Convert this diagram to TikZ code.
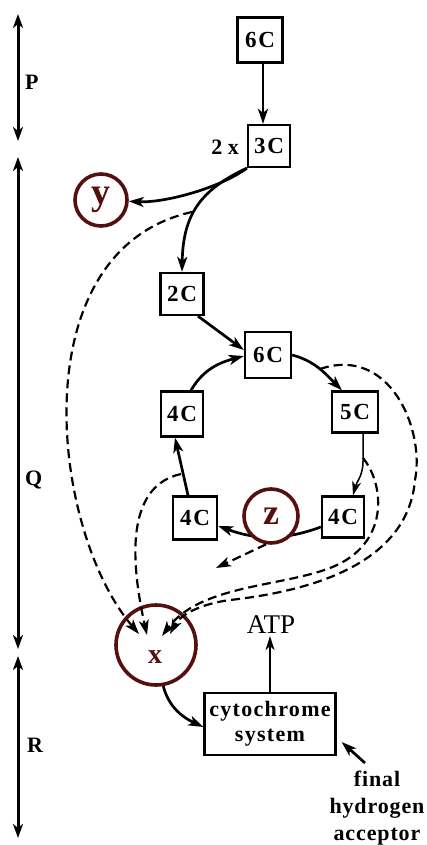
\documentclass[tikz,border=0pt]{standalone}
\usepackage{fontspec}
\setmainfont{Liberation Serif}
\usetikzlibrary{arrows.meta,calc}
\definecolor{ringred}{RGB}{85,15,15}
\begin{document}
\begin{tikzpicture}[x=1pt,y=-1pt,
  box/.style={draw, line width=2.3pt, inner sep=0pt, fill=white,
    font=\bfseries\fontsize{23}{23}\selectfont\addfontfeatures{LetterSpace=8}},
  ring/.style={draw=ringred, line width=3.6pt, circle, inner sep=0pt, text=ringred},
  conn/.style={line width=2.7pt, -{Stealth[length=15pt,width=10pt,inset=4pt]}},
  dconn/.style={line width=2.2pt, dash pattern=on 9pt off 5pt, -{Stealth[length=15pt,width=10pt,inset=4pt]}},
  slim/.style={line width=1.5pt, -{Stealth[length=14pt,width=9pt,inset=4pt]}},
  span/.style={line width=3pt, {Stealth[length=14pt,width=10pt,inset=4pt]}-{Stealth[length=14pt,width=10pt,inset=4pt]}},
  lab/.style={inner sep=0pt, font=\bfseries\fontsize{22}{22}\selectfont}
]
\useasboundingbox (0,0) rectangle (427,845);

% left spans
\coordinate (pt) at (18,14);
\coordinate (pb) at (18,141);
\coordinate (qt) at (18,157);
\coordinate (qb) at (18,649);
\coordinate (rt) at (18,656);
\coordinate (rb) at (18,838);
\draw[span] (pt) -- (pb);
\draw[span] (qt) -- (qb);
\draw[span] (rt) -- (rb);
\node[lab, anchor=base west] (P) at (25,90) {P};
\node[lab, anchor=base west] (Q) at (25,485) {Q};
\node[lab, anchor=base west] (R) at (27,752) {R};

% boxes
\node[box, minimum width=45pt, minimum height=45pt] (c6a) at (260,40) {6C};
\node[box, minimum width=42pt, minimum height=42pt] (c3) at (269,146) {3C};
\node[lab, anchor=base east] (two) at (239,155) {2 x};
\node[box, minimum width=43pt, minimum height=42pt] (c2) at (182,294) {2C};
\node[box, minimum width=46pt, minimum height=46pt] (c6b) at (268,355) {6C};
\node[box, minimum width=42pt, minimum height=45pt] (c4a) at (182,414) {4C};
\node[box, minimum width=46pt, minimum height=41pt] (c5) at (355,412) {5C};
\node[box, minimum width=44pt, minimum height=43pt] (c4b) at (195,518) {4C};
\node[box, minimum width=42pt, minimum height=41pt] (c4c) at (343,517) {4C};
\node[box, minimum width=131pt, minimum height=62pt, align=center,
  font=\bfseries\fontsize{22}{25}\selectfont\addfontfeatures{LetterSpace=6}] (cyt) at (270,724) {cytochrome\\system};

% circles
\node[ring, minimum size=52pt, font=\bfseries\fontsize{38}{38}\selectfont] (Y) at (101,200) {y};
\draw[conn] ([yshift=-10pt]c4c.west) to[out=200,in=-20] ([yshift=-8pt]c4b.east);
\node[ring, fill=white, minimum size=54pt, font=\bfseries\fontsize{36}{36}\selectfont] (Z) at (271,516) {z};
\node[ring, minimum size=80pt] (X) at (156,645) {};
\node[text=ringred, font=\bfseries\fontsize{28}{28}\selectfont] (xl) at (155,657) {x};

% other texts
\node[inner sep=2pt, font=\fontsize{27}{27}\selectfont] (atp) at (271,625) {ATP};
\node[inner sep=0pt, anchor=north, align=center,
  font=\bfseries\fontsize{22}{27}\selectfont\addfontfeatures{LetterSpace=4}] (fha) at (377,771) {final\\hydrogen\\acceptor};

% free points
\coordinate (d1) at (192,212);
\coordinate (d2) at (181,474);
\coordinate (d3) at (320,369);
\coordinate (d4) at (363,458);
\coordinate (xa) at (139,634);
\coordinate (xb) at (147,635);
\coordinate (xc) at (162,636);
\coordinate (xd) at (170,634);
\coordinate (zout) at (216,568);

% solid connectors
\draw[conn] ([xshift=3pt]c6a.south) -- ([xshift=-6pt]c3.north);
\draw[conn] (c3.south west) .. controls (220,188) and (165,203) .. (Y);
\draw[conn] (c3.south west) .. controls (200,190) and (183,215) .. (c2.north);
\draw[conn] ([xshift=16pt]c2.south) -- ([yshift=5pt]c6b.west);
\draw[conn] ([xshift=9pt]c4a.north) to[out=60,in=195] ([yshift=-1pt]c6b.west);
\draw[conn] (c6b.east) to[out=-15,in=135] ([xshift=-13pt]c5.north);
\draw[slim] ([xshift=8pt]c5.south) -- ++(0,28) to[out=-90,in=75] ([xshift=10pt]c4c.north);
\draw[conn] ([xshift=-7pt]c4b.north) -- ([xshift=-7pt]c4a.south);
\draw[conn] (X.-80) to[out=-75,in=155] ([yshift=-3pt]cyt.west);
\draw[slim] (cyt.north) -- (cyt.north |- atp.south);
\draw[conn] ([xshift=-12pt,yshift=8pt]fha.north) -- ([xshift=5pt,yshift=-18pt]cyt.east);

% dashed connectors
\draw[dconn] (Z.-100) -- (zout);
\draw[dconn] (d1) .. controls (20,250) and (50,530) .. (xa);
\draw[dconn] (d2) .. controls (130,485) and (128,550) .. (xb);
\draw[dconn] (d3) .. controls (390,345) and (425,430) .. (415,480)
  .. controls (408,560) and (320,590) .. (230,600)
  .. controls (200,604) and (180,615) .. (xd);
\draw[dconn] (d4) .. controls (385,485) and (390,545) .. (330,568)
  .. controls (280,587) and (200,585) .. (xc);
\end{tikzpicture}
\end{document}
